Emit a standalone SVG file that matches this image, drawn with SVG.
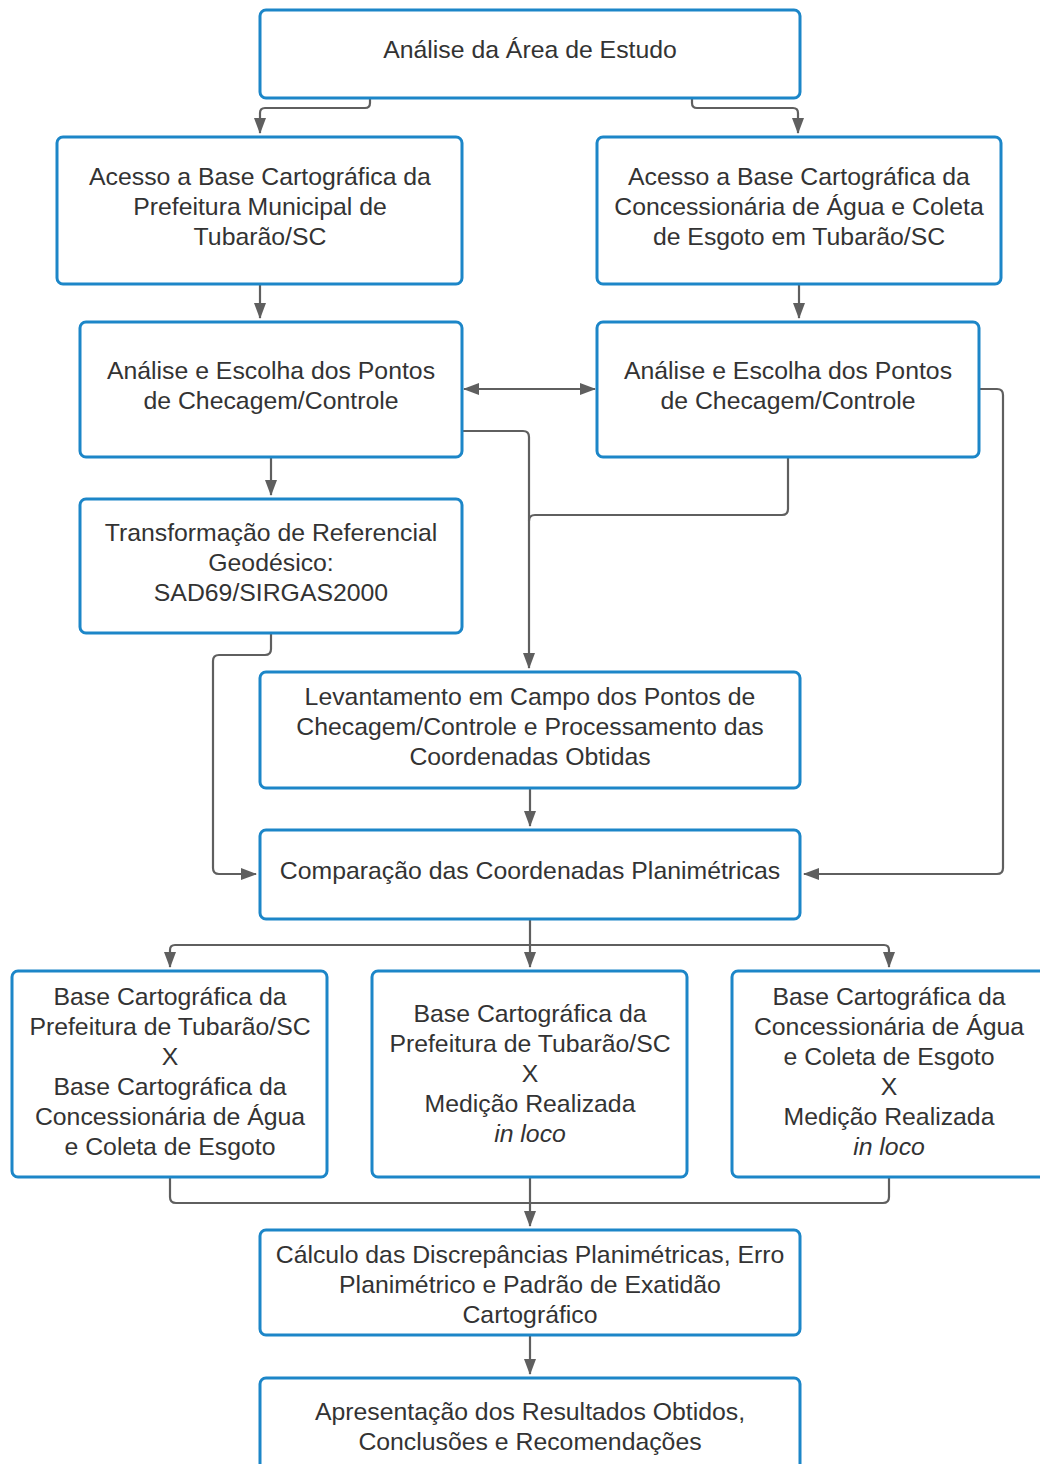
<svg xmlns="http://www.w3.org/2000/svg" width="1040" height="1464" viewBox="0 0 1040 1464">
<defs>
<marker id="ah" viewBox="0 0 16 12" refX="15" refY="6" markerWidth="16" markerHeight="12" markerUnits="userSpaceOnUse" orient="auto-start-reverse">
<path d="M0,0 L16,6 L0,12 Z" fill="#5f5f5f"/>
</marker>
</defs>
<style>
.box{fill:#fff;stroke:#1c86c8;stroke-width:3}
.t{font-family:"Liberation Sans",Arial,sans-serif;font-size:24.8px;fill:#333;text-anchor:middle}
.c{fill:none;stroke:#5f5f5f;stroke-width:2.2}
</style>
<rect width="1040" height="1464" fill="#fff"/>
<g id="connectors">
<path class="c" d="M370,98 V103 Q370,108 365,108 H265 Q260,108 260,113 V133" marker-end="url(#ah)"/>
<path class="c" d="M692,98 V103 Q692,108 697,108 H793 Q798,108 798,113 V133" marker-end="url(#ah)"/>
<path class="c" d="M260,284 V318" marker-end="url(#ah)"/>
<path class="c" d="M799,284 V318" marker-end="url(#ah)"/>
<path class="c" d="M464,389 H595" marker-start="url(#ah)" marker-end="url(#ah)"/>
<path class="c" d="M462,431 H523 Q529,431 529,437 V668" marker-end="url(#ah)"/>
<path class="c" d="M788,457 V509 Q788,515 782,515 H535 Q529,515 529,521"/>
<path class="c" d="M979,389 H997 Q1003,389 1003,395 V868 Q1003,874 997,874 H804" marker-end="url(#ah)"/>
<path class="c" d="M271,457 V495" marker-end="url(#ah)"/>
<path class="c" d="M271,633 V649 Q271,655 265,655 H219 Q213,655 213,661 V868 Q213,874 219,874 H256" marker-end="url(#ah)"/>
<path class="c" d="M530,788 V826" marker-end="url(#ah)"/>
<path class="c" d="M530,919 V945"/>
<path class="c" d="M175,945 H884"/>
<path class="c" d="M175,945 Q170,945 170,950 V967" marker-end="url(#ah)"/>
<path class="c" d="M530,945 V967" marker-end="url(#ah)"/>
<path class="c" d="M884,945 Q889,945 889,950 V967" marker-end="url(#ah)"/>
<path class="c" d="M170,1177 V1197 Q170,1203 176,1203 H883 Q889,1203 889,1197 V1177"/>
<path class="c" d="M530,1177 V1226" marker-end="url(#ah)"/>
<path class="c" d="M530,1335 V1374" marker-end="url(#ah)"/>
</g>
<g id="n1"><rect class="box" x="260" y="10" width="540" height="88" rx="6"/><text class="t" x="530" y="58">Análise da Área de Estudo</text></g>
<g id="n2"><rect class="box" x="57" y="137" width="405" height="147" rx="6"/><text class="t" x="260" y="185">Acesso a Base Cartográfica da</text><text class="t" x="260" y="215">Prefeitura Municipal de</text><text class="t" x="260" y="245">Tubarão/SC</text></g>
<g id="n3"><rect class="box" x="597" y="137" width="404" height="147" rx="6"/><text class="t" x="799" y="185">Acesso a Base Cartográfica da</text><text class="t" x="799" y="215">Concessionária de Água e Coleta</text><text class="t" x="799" y="245">de Esgoto em Tubarão/SC</text></g>
<g id="n4"><rect class="box" x="80" y="322" width="382" height="135" rx="6"/><text class="t" x="271" y="379">Análise e Escolha dos Pontos</text><text class="t" x="271" y="409">de Checagem/Controle</text></g>
<g id="n5"><rect class="box" x="597" y="322" width="382" height="135" rx="6"/><text class="t" x="788" y="379">Análise e Escolha dos Pontos</text><text class="t" x="788" y="409">de Checagem/Controle</text></g>
<g id="n6"><rect class="box" x="80" y="499" width="382" height="134" rx="6"/><text class="t" x="271" y="541">Transformação de Referencial</text><text class="t" x="271" y="571">Geodésico:</text><text class="t" x="271" y="601">SAD69/SIRGAS2000</text></g>
<g id="n7"><rect class="box" x="260" y="672" width="540" height="116" rx="6"/><text class="t" x="530" y="705">Levantamento em Campo dos Pontos de</text><text class="t" x="530" y="735">Checagem/Controle e Processamento das</text><text class="t" x="530" y="765">Coordenadas Obtidas</text></g>
<g id="n8"><rect class="box" x="260" y="830" width="540" height="89" rx="6"/><text class="t" x="530" y="879">Comparação das Coordenadas Planimétricas</text></g>
<g id="n9"><rect class="box" x="12" y="971" width="315" height="206" rx="6"/><text class="t" x="170" y="1005">Base Cartográfica da</text><text class="t" x="170" y="1035">Prefeitura de Tubarão/SC</text><text class="t" x="170" y="1065">X</text><text class="t" x="170" y="1095">Base Cartográfica da</text><text class="t" x="170" y="1125">Concessionária de Água</text><text class="t" x="170" y="1155">e Coleta de Esgoto</text></g>
<g id="n10"><rect class="box" x="372" y="971" width="315" height="206" rx="6"/><text class="t" x="530" y="1022">Base Cartográfica da</text><text class="t" x="530" y="1052">Prefeitura de Tubarão/SC</text><text class="t" x="530" y="1082">X</text><text class="t" x="530" y="1112">Medição Realizada</text><text class="t" x="530" y="1142" font-style="italic">in loco</text></g>
<g id="n11"><rect class="box" x="732" y="971" width="315" height="206" rx="6"/><text class="t" x="889" y="1005">Base Cartográfica da</text><text class="t" x="889" y="1035">Concessionária de Água</text><text class="t" x="889" y="1065">e Coleta de Esgoto</text><text class="t" x="889" y="1095">X</text><text class="t" x="889" y="1125">Medição Realizada</text><text class="t" x="889" y="1155" font-style="italic">in loco</text></g>
<g id="n12"><rect class="box" x="260" y="1230" width="540" height="105" rx="6"/><text class="t" x="530" y="1263">Cálculo das Discrepâncias Planimétricas, Erro</text><text class="t" x="530" y="1293">Planimétrico e Padrão de Exatidão</text><text class="t" x="530" y="1323">Cartográfico</text></g>
<g id="n13"><rect class="box" x="260" y="1378" width="540" height="100" rx="6"/><text class="t" x="530" y="1420">Apresentação dos Resultados Obtidos,</text><text class="t" x="530" y="1450">Conclusões e Recomendações</text></g>
</svg>
